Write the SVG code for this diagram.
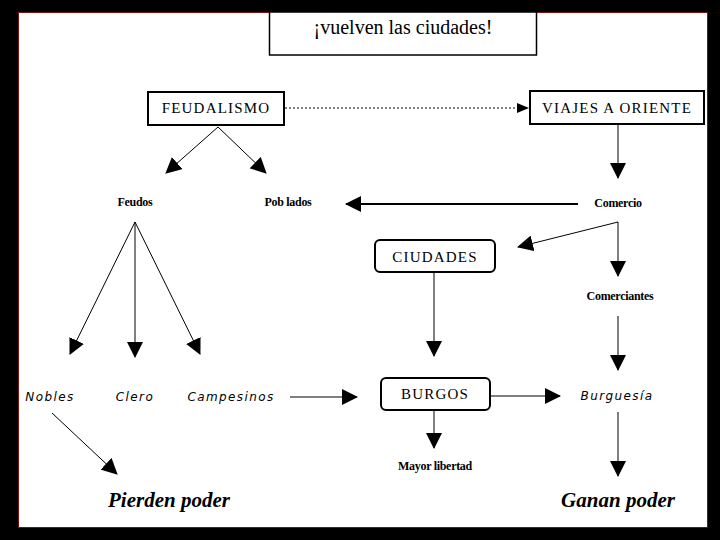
<svg xmlns="http://www.w3.org/2000/svg" width="720" height="540" viewBox="0 0 720 540">
<style>
.box{fill:#fff;stroke:#000;stroke-width:2}
.cap{font-family:"Liberation Serif",serif;font-size:15px;letter-spacing:1.2px;text-anchor:middle;fill:#000}
.sm{font-family:"Liberation Serif",serif;font-size:12px;font-weight:bold;text-anchor:middle;fill:#000;letter-spacing:-0.3px}
.it{font-family:"DejaVu Sans","Liberation Sans",sans-serif;font-size:12px;font-style:italic;letter-spacing:1.4px;text-anchor:middle;fill:#000}
.big{font-family:"Liberation Serif",serif;font-size:21px;font-weight:bold;font-style:italic;text-anchor:middle;fill:#000}
.ln{stroke:#000;stroke-width:1;fill:none;marker-end:url(#ah)}
</style>
<defs>
<marker id="ah" markerUnits="userSpaceOnUse" viewBox="0 0 16 16" refX="15" refY="8" markerWidth="16" markerHeight="16" orient="auto">
<path d="M0,0 L16,8 L0,16 Z" fill="#000"/>
</marker>
<marker id="ahs" markerUnits="userSpaceOnUse" viewBox="0 0 12 10" refX="11" refY="5" markerWidth="12" markerHeight="10" orient="auto">
<path d="M0,0 L12,5 L0,10 Z" fill="#000"/>
</marker>
</defs>
<rect x="0" y="0" width="720" height="540" fill="#000"/>
<rect x="18.5" y="12.5" width="689" height="515" fill="#fff" stroke="#7a1010" stroke-width="1"/>

<g id="title">
<rect x="269.5" y="12" width="267" height="43" fill="#fff" stroke="#000" stroke-width="1.5"/>
<text x="403" y="34" font-family="Liberation Serif,serif" font-size="20" text-anchor="middle">¡vuelven las ciudades!</text>
</g>

<g id="connectors">
<line x1="285" y1="108" x2="528" y2="108" stroke="#000" stroke-width="1" stroke-dasharray="2,2" marker-end="url(#ahs)"/>
<line class="ln" x1="218" y1="127" x2="166" y2="173"/>
<line class="ln" x1="218" y1="127" x2="266" y2="173"/>
<line class="ln" x1="618" y1="125" x2="618" y2="178"/>
<line x1="578" y1="204" x2="346" y2="204" stroke="#000" stroke-width="2" fill="none" marker-end="url(#ah)"/>
<line class="ln" x1="618" y1="222" x2="518" y2="247"/>
<line class="ln" x1="618" y1="222" x2="618" y2="276"/>
<line class="ln" x1="618" y1="316" x2="618" y2="370"/>
<line class="ln" x1="135" y1="222" x2="70" y2="354"/>
<line class="ln" x1="135" y1="222" x2="135" y2="357"/>
<line class="ln" x1="135" y1="222" x2="200" y2="354"/>
<line class="ln" x1="434" y1="273" x2="434" y2="356"/>
<line class="ln" x1="290" y1="397" x2="357" y2="397"/>
<line class="ln" x1="490" y1="396" x2="560" y2="396"/>
<line class="ln" x1="434" y1="411" x2="434" y2="448"/>
<line class="ln" x1="618" y1="412" x2="618" y2="476"/>
<line class="ln" x1="52" y1="413" x2="117" y2="474"/>
</g>

<g id="feudalismo">
<rect class="box" x="148" y="92" width="136" height="33"/>
<text class="cap" x="216" y="113">FEUDALISMO</text>
</g>
<g id="viajes">
<rect class="box" x="530" y="91" width="174" height="33"/>
<text class="cap" x="617" y="113">VIAJES A ORIENTE</text>
</g>
<g id="feudos"><text class="sm" x="135" y="206">Feudos</text></g>
<g id="poblados"><text class="sm" x="288" y="206">Pob lados</text></g>
<g id="comercio"><text class="sm" x="618" y="207">Comercio</text></g>
<g id="ciudades">
<rect class="box" x="375" y="240" width="120" height="32" rx="5"/>
<text class="cap" x="435" y="262">CIUDADES</text>
</g>
<g id="comerciantes"><text class="sm" x="620" y="300">Comerciantes</text></g>
<g id="nobles"><text class="it" x="50" y="401">Nobles</text></g>
<g id="clero"><text class="it" x="135" y="401">Clero</text></g>
<g id="campesinos"><text class="it" x="231" y="401">Campesinos</text></g>
<g id="burgos">
<rect class="box" x="381" y="378" width="109" height="32" rx="5"/>
<text class="cap" x="435" y="399">BURGOS</text>
</g>
<g id="burguesia"><text class="it" x="617" y="400">Burguesía</text></g>
<g id="mayor"><text class="sm" x="435" y="470">Mayor libertad</text></g>
<g id="pierden"><text class="big" x="169" y="507">Pierden poder</text></g>
<g id="ganan"><text class="big" x="618" y="507">Ganan poder</text></g>
</svg>
